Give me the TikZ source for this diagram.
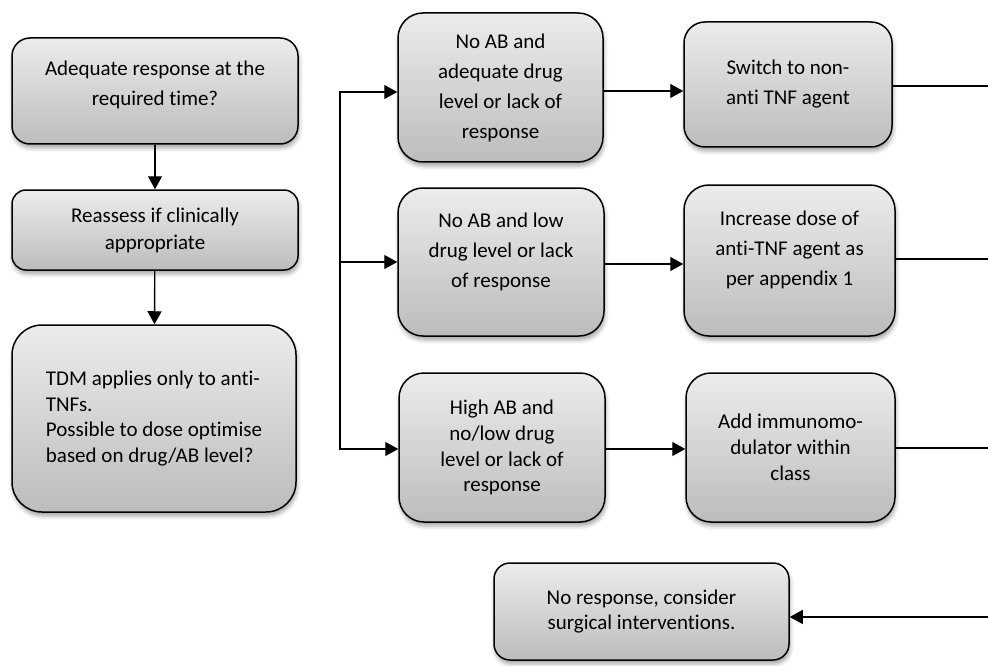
\documentclass[tikz,border=0pt]{standalone}
\usepackage{fontspec}
\setmainfont[Ligatures=NoCommon]{Carlito}
\usetikzlibrary{arrows.meta,shadows.blur}
\definecolor{gtop}{RGB}{236,236,236}
\definecolor{gbot}{RGB}{188,188,188}
\tikzset{
  fbox/.style={draw=black, line width=1.5pt, top color=gtop, bottom color=gbot,
    align=center, inner sep=0pt,
    blur shadow={shadow xshift=1pt, shadow yshift=-4pt, shadow blur radius=4pt, shadow opacity=35}},
  wide/.style={font=\fontsize{21}{30}\selectfont},
  tight/.style={font=\fontsize{21}{25.8}\selectfont},
  arr/.style={line width=1.4pt, -{Triangle[length=13pt,width=14pt]}},
  ln/.style={line width=1.4pt},
}
\begin{document}
\begin{tikzpicture}[x=1pt,y=-1pt]
\useasboundingbox (0,0) rectangle (988,666);
% left column
\node[fbox, wide, minimum width=286pt, minimum height=106pt, rounded corners=18pt] (q1) at (155,91)
  {Adequate response at the\\required time?\\[-14pt]\mbox{}};
\node[fbox, font=\fontsize{21}{27}\selectfont, minimum width=286pt, minimum height=80pt, rounded corners=14pt] (q2) at (155,230)
  {Reassess if clinically\\appropriate};
\node[fbox, tight, align=left, minimum width=284pt, minimum height=187pt, rounded corners=30pt] (q3) at (154,418.5)
  {TDM applies only to anti-\\TNFs.\\Possible to dose optimise\\based on drug/AB level?};
% middle column
\node[fbox, wide, minimum width=205pt, minimum height=149pt, rounded corners=25pt] (a1) at (500.5,87.5)
  {No AB and\\adequate drug\\level or lack of\\response};
\node[fbox, wide, minimum width=206pt, minimum height=148pt, rounded corners=25pt] (a2) at (501,262)
  {No AB and low\\drug level or lack\\of response\\[-6pt]\mbox{}};
\node[fbox, tight, minimum width=206pt, minimum height=149pt, rounded corners=25pt] (a3) at (502,447.5)
  {High AB and\\no/low drug\\level or lack of\\response};
% right column
\node[fbox, wide, minimum width=208pt, minimum height=125pt, rounded corners=21pt] (b1) at (788,84.5)
  {Switch to non-\\anti TNF agent};
\node[fbox, wide, minimum width=211pt, minimum height=151pt, rounded corners=25pt] (b2) at (789.5,260.5)
  {Increase dose of\\anti-TNF agent as\\per appendix 1\\[-6pt]\mbox{}};
\node[fbox, tight, minimum width=209pt, minimum height=149pt, rounded corners=25pt] (b3) at (790.5,447.5)
  {Add immunomo-\\dulator within\\class};
% bottom
\node[fbox, tight, minimum width=295pt, minimum height=97pt, rounded corners=16pt] (c) at (641.5,611.5)
  {No response, consider\\surgical interventions.};
% connectors
\draw[arr] (q1) -- (q2);
\draw[arr] (q2) -- (q3);
\coordinate (j1) at (340,92);
\coordinate (j2) at (340,262);
\coordinate (j3) at (340,449);
\draw[ln, line cap=rect] (j1) -- (j3);
\draw[arr] (j1) -- (j1 -| a1.west);
\draw[arr] (j2) -- (j2 -| a2.west);
\draw[arr] (j3) -- (j3 -| a3.west);
\coordinate (m1) at (640,91);
\coordinate (m2) at (640,264);
\coordinate (m3) at (640,449);
\draw[arr] (m1 -| a1.east) -- (m1 -| b1.west);
\draw[arr] (m2 -| a2.east) -- (m2 -| b2.west);
\draw[arr] (m3 -| a3.east) -- (m3 -| b3.west);
\coordinate (e1) at (988,86);
\coordinate (e2) at (988,259);
\coordinate (e3) at (988,448);
\coordinate (e4) at (988,617);
\draw[ln] (e1 -| b1.east) -- (e1);
\draw[ln] (e2 -| b2.east) -- (e2);
\draw[ln] (e3 -| b3.east) -- (e3);
\draw[arr] (e4) -- (e4 -| c.east);
\end{tikzpicture}
\end{document}
